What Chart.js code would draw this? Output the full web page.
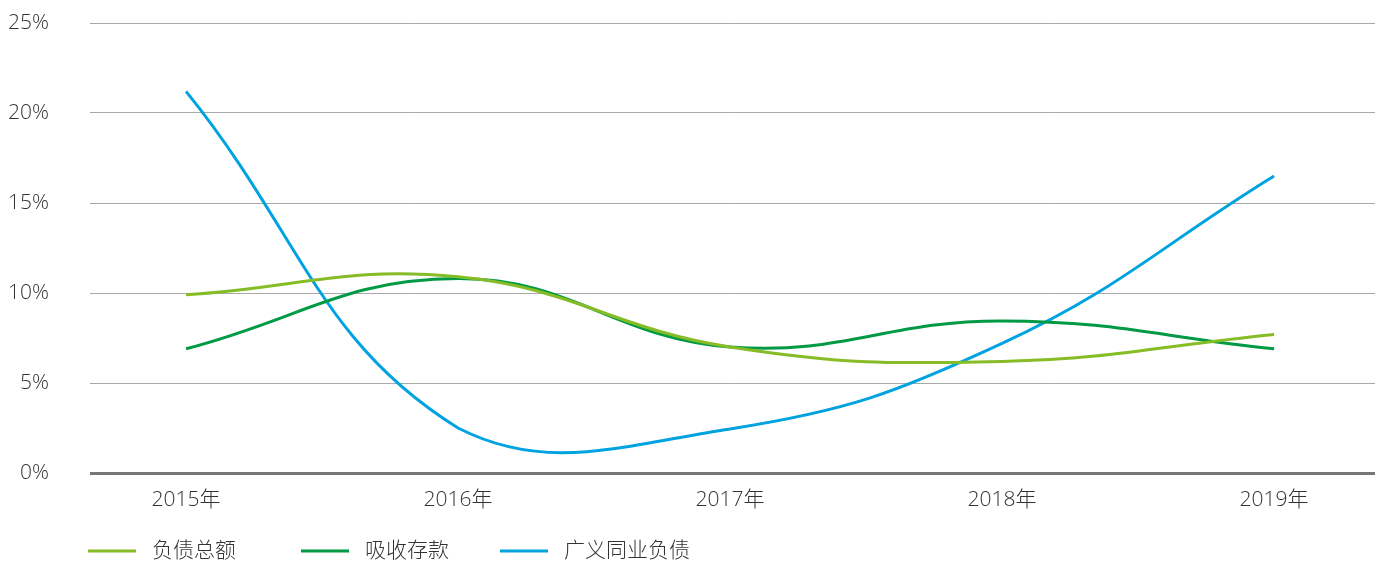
<!DOCTYPE html>
<html>
<head>
<meta charset="utf-8">
<script src="https://cdn.jsdelivr.net/npm/chart.js@4.4.1/dist/chart.umd.min.js"></script>
<style>
    html, body { margin: 0; padding: 0; background: #fff; }
    #wrap { position: relative; width: 1382px; height: 562px; }
</style>
</head>
<body>
<div id="wrap"><canvas id="chart"></canvas></div>
<script>
const years = [2015, 2016, 2017, 2018, 2019];
const yTicks = [0, 5, 10, 15, 20, 25];

const fuzhaiZonge = [9.9, 10.9, 7.0, 6.2, 7.7];
const xishouCunkuan = [6.9, 10.8, 7.0, 8.45, 6.9];
const guangyiTongye = [21.2, 2.5, 2.45, 7.2, 16.5];

const seriesNames = ['负债总额', '吸收存款', '广义同业负债'];
const seriesColors = ['#86BC25', '#009A44', '#00A3E0'];

const FONT = "'Open Sans', 'Noto Sans CJK SC', sans-serif";
const TEXT = '#333333';

// legend drawn on the canvas at fixed columns like the original
const legendLine = {
    id: 'legendLine',
    afterDraw(chart) {
        const ctx = chart.ctx;
        const xs = [88, 301, 500];
        const y = 551;
        ctx.save();
        ctx.font = `300 21px ${FONT}`;
        ctx.textBaseline = 'middle';
        chart.data.datasets.forEach((ds, i) => {
            ctx.fillStyle = ds.borderColor;
            ctx.fillRect(xs[i], y - 1.5, 48, 3);
            ctx.fillStyle = TEXT;
            ctx.fillText(ds.label, xs[i] + 64, y);
        });
        ctx.restore();
    }
};

const toPoints = (vals) => vals.map((v, i) => ({ x: years[i], y: v }));

new Chart(document.getElementById('chart'), {
    type: 'line',
    data: {
        datasets: [fuzhaiZonge, xishouCunkuan, guangyiTongye].map((vals, i) => ({
            label: seriesNames[i],
            data: toPoints(vals),
            borderColor: seriesColors[i],
            backgroundColor: seriesColors[i],
            borderWidth: 3,
            pointRadius: 0,
            tension: 0.42,
            fill: false
        }))
    },
    options: {
        responsive: true,
        maintainAspectRatio: false,
        animation: false,
        layout: { padding: { top: 23, right: 7, bottom: 50, left: 0 } },
        plugins: {
            legend: { display: false },
            tooltip: { enabled: false }
        },
        scales: {
            x: {
                type: 'linear',
                min: 2014.647,
                max: 2019.371,
                afterBuildTicks: (axis) => { axis.ticks = years.map(v => ({ value: v })); },
                afterFit: (axis) => { axis.height = 39; },
                grid: { display: false },
                border: { display: false },
                ticks: {
                    padding: 6,
                    color: TEXT,
                    font: { family: FONT, size: 21, weight: 300 },
                    callback: (v) => v + '年'
                }
            },
            y: {
                min: 0,
                max: 25,
                afterBuildTicks: (axis) => { axis.ticks = yTicks.map(v => ({ value: v })); },
                afterFit: (axis) => {
                    axis.width = 90;
                    axis.paddingTop = 0;
                    axis.paddingBottom = 0;
                },
                border: { display: false },
                grid: {
                    drawTicks: false,
                    color: (c) => c.tick && c.tick.value === 0 ? '#767676' : '#a8a8a8',
                    lineWidth: (c) => c.tick && c.tick.value === 0 ? 3 : 1
                },
                ticks: {
                    padding: 41,
                    color: TEXT,
                    font: { family: FONT, size: 21, weight: 300 },
                    callback: (v) => v + '%'
                }
            }
        }
    },
    plugins: [legendLine]
});
</script>
</body>
</html>
